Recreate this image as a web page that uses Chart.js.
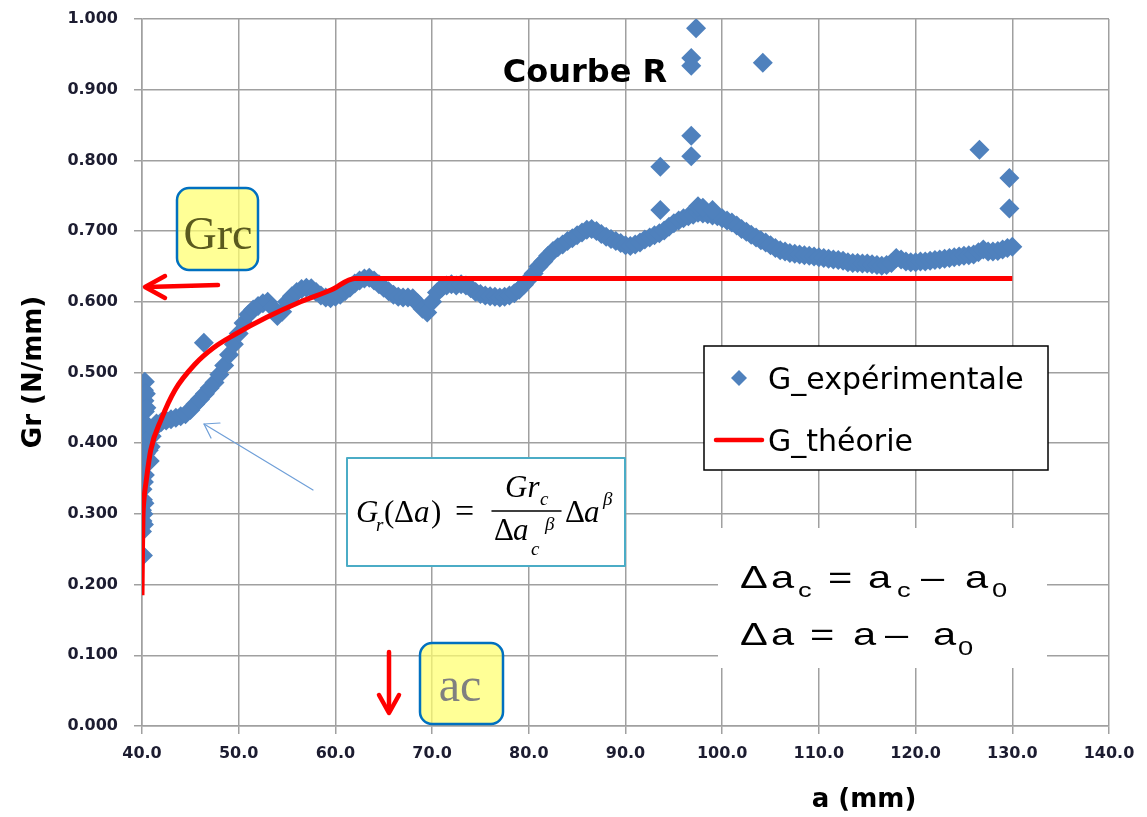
<!DOCTYPE html>
<html>
<head>
<meta charset="utf-8">
<title>Courbe R</title>
<script src="https://cdn.jsdelivr.net/npm/chart.js@4.4.0/dist/chart.umd.min.js"></script>
<style>
    html, body { margin: 0; padding: 0; background: #fff; }
    #wrap { width: 1147px; height: 817px; position: relative; }
</style>
</head>
<body>
<div id="wrap"><canvas id="chart"></canvas></div>
<script>
const expA = [
    // cluster at crack initiation
    40.1, 40.0, 40.05, 40.0, 40.1, 40.05, 40.15, 40.2, 40.25, 40.2, 40.3, 40.35, 40.4, 40.3, 40.25,
    40.2, 40.3, 40.25, 40.2, 40.3, 40.4, 40.45, 40.5, 40.6, 40.7, 40.8, 40.9, 41.0, 41.2,
    // propagation band
    41.5, 42.0, 42.5, 43.0, 43.5, 44.0, 44.5, 45.0, 45.5, 46.0, 46.5, 47.0, 47.5, 48.0, 48.5, 49.0,
    49.5, 50.0, 50.5, 51.0, 51.5, 52.0, 52.5, 53.0, 53.5, 54.0, 54.5, 55.0, 55.5, 56.0, 56.5, 57.0,
    57.5, 58.0, 58.5, 59.0, 59.5, 60.0, 60.5, 61.0, 61.5, 62.0, 62.5, 63.0, 63.5, 64.0, 64.5, 65.0,
    65.5, 66.0, 66.5, 67.0, 67.5, 68.0, 68.5, 69.0, 69.5, 70.0, 70.5, 71.0, 71.5, 72.0, 72.5, 73.0,
    73.5, 74.0, 74.5, 75.0, 75.5, 76.0, 76.5, 77.0, 77.5, 78.0, 78.5, 79.0, 79.5, 80.0, 80.5, 81.0,
    81.5, 82.0, 82.5, 83.0, 83.5, 84.0, 84.5, 85.0, 85.5, 86.0, 86.5, 87.0, 87.5, 88.0, 88.5, 89.0,
    89.5, 90.0, 90.5, 91.0, 91.5, 92.0, 92.5, 93.0, 93.5, 94.0, 94.5, 95.0, 95.5, 96.0, 96.5, 97.0,
    97.5, 98.0, 98.5, 99.0, 99.5, 100.0, 100.5, 101.0, 101.5, 102.0, 102.5, 103.0, 103.5, 104.0, 104.5, 105.0,
    105.5, 106.0, 106.5, 107.0, 107.5, 108.0, 108.5, 109.0, 109.5, 110.0, 110.5, 111.0, 111.5, 112.0, 112.5, 113.0,
    113.5, 114.0, 114.5, 115.0, 115.5, 116.0, 116.5, 117.0, 117.5, 118.0, 118.5, 119.0, 119.5, 120.0, 120.5, 121.0,
    121.5, 122.0, 122.5, 123.0, 123.5, 124.0, 124.5, 125.0, 125.5, 126.0, 126.5, 127.0, 127.5, 128.0, 128.5, 129.0,
    129.5, 130.0,
    // upper edge of the peak near 98 mm
    97.5, 98.0, 99.0,
    // isolated points
    46.4, 93.6, 93.6, 96.8, 96.8, 96.8, 96.8, 97.3, 104.2, 126.6, 129.7, 129.7
];
const expG = [
    0.241, 0.275, 0.290, 0.305, 0.320, 0.335, 0.300, 0.285, 0.315, 0.345, 0.355, 0.370, 0.385, 0.400, 0.415,
    0.430, 0.445, 0.460, 0.475, 0.487, 0.470, 0.450, 0.425, 0.405, 0.390, 0.375, 0.395, 0.410, 0.420,
    0.428, 0.430, 0.432, 0.434, 0.436, 0.438, 0.441, 0.447, 0.455, 0.462, 0.470, 0.478, 0.486, 0.497, 0.510, 0.525,
    0.540, 0.555, 0.570, 0.582, 0.589, 0.594, 0.598, 0.600, 0.592, 0.580, 0.586, 0.600, 0.608, 0.614, 0.618, 0.620,
    0.619, 0.614, 0.609, 0.606, 0.605, 0.607, 0.610, 0.615, 0.620, 0.626, 0.630, 0.633, 0.634, 0.630, 0.625, 0.620,
    0.615, 0.610, 0.607, 0.606, 0.606, 0.605, 0.598, 0.590, 0.585, 0.600, 0.613, 0.620, 0.623, 0.625, 0.623, 0.625,
    0.623, 0.619, 0.614, 0.611, 0.609, 0.608, 0.607, 0.606, 0.607, 0.609, 0.612, 0.617, 0.624, 0.632, 0.640, 0.650,
    0.657, 0.665, 0.672, 0.677, 0.681, 0.686, 0.690, 0.694, 0.698, 0.702, 0.703, 0.700, 0.696, 0.692, 0.689, 0.686,
    0.683, 0.680, 0.679, 0.681, 0.684, 0.688, 0.691, 0.694, 0.697, 0.701, 0.706, 0.711, 0.715, 0.718, 0.721, 0.723,
    0.726, 0.725, 0.724, 0.722, 0.721, 0.718, 0.715, 0.712, 0.708, 0.703, 0.699, 0.695, 0.691, 0.687, 0.684, 0.680,
    0.676, 0.673, 0.671, 0.669, 0.668, 0.667, 0.666, 0.665, 0.664, 0.663, 0.662, 0.661, 0.660, 0.659, 0.658, 0.656,
    0.655, 0.655, 0.654, 0.654, 0.653, 0.652, 0.651, 0.652, 0.655, 0.662, 0.660, 0.657, 0.656, 0.656, 0.657, 0.657,
    0.658, 0.659, 0.660, 0.661, 0.662, 0.663, 0.664, 0.665, 0.666, 0.667, 0.670, 0.674, 0.671, 0.671, 0.672, 0.674,
    0.676, 0.678,
    0.735, 0.733, 0.730,
    0.542, 0.791, 0.730, 0.835, 0.806, 0.945, 0.934, 0.987, 0.938, 0.815, 0.775, 0.732
];

// Theoretical R-curve
const theoA = [40.0, 40.05, 40.1, 40.2, 40.4, 40.9, 42.0, 43.4, 45.5, 47.4, 49.5, 52.9, 56.4, 59.6, 62.0, 130.0];
const theoG = [0.185, 0.250, 0.295, 0.320, 0.343, 0.390, 0.434, 0.475, 0.512, 0.535, 0.553, 0.578, 0.600, 0.617, 0.633, 0.633];

const seriesNames = ['G_expérimentale', 'G_théorie'];
const chartTitle = 'Courbe R';
const xTitle = 'a (mm)';
const yTitle = 'Gr (N/mm)';

const BLUE = '#4F81BD';
const RED = '#FF0000';
const GRID = '#a0a0a0';
const TICK_TEXT = '#1c1c30';

function roundRect(ctx, x, y, w, h, r) {
    ctx.beginPath();
    ctx.moveTo(x + r, y);
    ctx.arcTo(x + w, y, x + w, y + h, r);
    ctx.arcTo(x + w, y + h, x, y + h, r);
    ctx.arcTo(x, y + h, x, y, r);
    ctx.arcTo(x, y, x + w, y, r);
    ctx.closePath();
}

function strokeLine(ctx, pts, color, width) {
    ctx.beginPath();
    ctx.moveTo(pts[0][0], pts[0][1]);
    for (let i = 1; i < pts.length; i++) ctx.lineTo(pts[i][0], pts[i][1]);
    ctx.strokeStyle = color;
    ctx.lineWidth = width;
    ctx.lineCap = 'round';
    ctx.lineJoin = 'round';
    ctx.stroke();
}

function txt(ctx, s, x, y, font, color) {
    ctx.font = font;
    ctx.fillStyle = color || '#000';
    ctx.fillText(s, x, y);
}

// Annotations drawn on top of the chart (titles, legend, callouts)
const annotations = {
    id: 'annotations',
    afterDraw(chart) {
        const ctx = chart.ctx;
        const expSet = chart.data.datasets.find(d => d.label === seriesNames[0]);
        const theoSet = chart.data.datasets.find(d => d.label === seriesNames[1]);
        ctx.save();
        ctx.textAlign = 'left';
        ctx.textBaseline = 'alphabetic';

        // chart title
        ctx.textAlign = 'center';
        txt(ctx, chartTitle, 585, 82, 'bold 32px "DejaVu Sans"', '#000');

        // axis titles
        txt(ctx, xTitle, 864, 807, 'bold 26px "DejaVu Sans"', '#000');
        ctx.save();
        ctx.translate(34, 372);
        ctx.rotate(-Math.PI / 2);
        ctx.textBaseline = 'middle';
        txt(ctx, yTitle, 0, 0, 'bold 26px "DejaVu Sans"', '#000');
        ctx.restore();
        ctx.textAlign = 'left';

        // legend
        ctx.fillStyle = '#fff';
        ctx.fillRect(704, 346, 344, 124);
        ctx.strokeStyle = '#000';
        ctx.lineWidth = 1.5;
        ctx.strokeRect(704, 346, 344, 124);
        ctx.beginPath();
        ctx.moveTo(739, 370); ctx.lineTo(747, 378); ctx.lineTo(739, 386); ctx.lineTo(731, 378);
        ctx.closePath();
        ctx.fillStyle = expSet.backgroundColor;
        ctx.fill();
        txt(ctx, seriesNames[0], 768, 389, '30px "DejaVu Sans"', '#000');
        strokeLine(ctx, [[716, 440], [762, 440]], theoSet.borderColor, 4.5);
        txt(ctx, seriesNames[1], 768, 451, '30px "DejaVu Sans"', '#000');

        // text box with the definitions
        ctx.fillStyle = '#fff';
        ctx.fillRect(718, 528, 329, 140);
        const big = '32px "Liberation Sans"', small = '21px "Liberation Sans"';
        const stretched = (s, x, y, f) => {
            ctx.save();
            ctx.translate(x, y);
            ctx.scale(1.3, 1);
            txt(ctx, s, 0, 0, f, '#000');
            ctx.restore();
        };
        stretched('Δ', 740, 588, big); stretched('a', 771, 588, big); stretched('c', 798, 597, small);
        stretched('=', 828, 588, big); stretched('a', 868, 588, big); stretched('c', 897, 597, small);
        stretched('–', 921, 588, big); stretched('a', 965, 588, big); stretched('0', 992, 597, small);
        stretched('Δ', 740, 645, big); stretched('a', 771, 645, big); stretched('=', 810, 645, big);
        stretched('a', 853, 645, big); stretched('–', 885, 645, big); stretched('a', 933, 645, big);
        stretched('0', 958, 655, small);

        // formula box
        ctx.fillStyle = '#fff';
        ctx.fillRect(347, 458, 278, 108);
        ctx.strokeStyle = '#4BACC6';
        ctx.lineWidth = 2;
        ctx.strokeRect(347, 458, 278, 108);
        const it = 'italic 31px "Liberation Serif"', up = '31px "Liberation Serif"';
        const itS = 'italic 19px "Liberation Serif"';
        txt(ctx, 'G', 356, 522, it); txt(ctx, 'r', 376, 531, itS);
        txt(ctx, '(', 384, 522, up); txt(ctx, 'Δ', 394, 522, up); txt(ctx, 'a', 414, 522, it);
        txt(ctx, ')', 431, 522, up); txt(ctx, '=', 455, 522, '34px "Liberation Serif"');
        strokeLine(ctx, [[492, 511], [561, 511]], '#000', 1.5);
        txt(ctx, 'Gr', 505, 497, it); txt(ctx, 'c', 540, 505, itS);
        txt(ctx, 'Δ', 494, 540, up); txt(ctx, 'a', 513, 540, it);
        txt(ctx, 'c', 531, 555, itS); txt(ctx, 'β', 545, 530, itS);
        txt(ctx, 'Δ', 565, 522, up); txt(ctx, 'a', 584, 522, it); txt(ctx, 'β', 603, 505, itS);

        // thin pointer to the data
        strokeLine(ctx, [[313, 490], [204, 424]], '#6f9fd8', 1.2);
        strokeLine(ctx, [[220, 423], [204, 424], [211, 438]], '#6f9fd8', 1.2);

        // Grc callout
        roundRect(ctx, 177, 188, 81, 82, 12);
        ctx.fillStyle = 'rgba(255, 255, 110, 0.72)';
        ctx.fill();
        ctx.strokeStyle = '#0070C0';
        ctx.lineWidth = 2.5;
        ctx.stroke();
        ctx.textAlign = 'center';
        txt(ctx, 'Grc', 218, 249, '46px "Liberation Serif"', '#5a5a1e');
        ctx.textAlign = 'left';
        strokeLine(ctx, [[218, 285], [147, 287]], RED, 4.5);
        strokeLine(ctx, [[165, 276], [145, 287], [165, 298]], RED, 4.5);

        // ac callout
        roundRect(ctx, 420, 643, 83, 81, 12);
        ctx.fillStyle = 'rgba(255, 255, 110, 0.72)';
        ctx.fill();
        ctx.strokeStyle = '#0070C0';
        ctx.lineWidth = 2.5;
        ctx.stroke();
        ctx.textAlign = 'center';
        txt(ctx, 'ac', 460, 701, '48px "Liberation Serif"', '#808080');
        strokeLine(ctx, [[389, 652], [389, 712]], RED, 4.5);
        strokeLine(ctx, [[379, 695], [389, 713], [399, 695]], RED, 4.5);

        ctx.restore();
    }
};

const tickFont = { family: 'DejaVu Sans', size: 16, weight: 'bold' };

const ctx = document.getElementById('chart').getContext('2d');
const chart = new Chart(ctx, {
    type: 'scatter',
    data: {
        datasets: [
            {
                label: seriesNames[1],
                data: theoA.map((a, i) => ({ x: a, y: theoG[i] })),
                showLine: true,
                borderColor: RED,
                backgroundColor: RED,
                borderWidth: 5,
                pointRadius: 0,
                cubicInterpolationMode: 'monotone',
                order: 0
            },
            {
                label: seriesNames[0],
                data: expA.map((a, i) => ({ x: a, y: expG[i] })),
                showLine: false,
                pointStyle: 'rectRot',
                pointRadius: 10,
                borderWidth: 0,
                backgroundColor: BLUE,
                borderColor: BLUE,
                order: 1
            }
        ]
    },
    options: {
        responsive: true,
        maintainAspectRatio: false,
        animation: false,
        layout: { padding: { top: 19, right: 38, left: 0, bottom: 0 } },
        plugins: {
            legend: { display: false },
            tooltip: { enabled: false }
        },
        scales: {
            x: {
                type: 'linear',
                min: 40,
                max: 140,
                afterFit: s => { s.height = 91; },
                ticks: {
                    stepSize: 10,
                    maxRotation: 0,
                    padding: 10,
                    color: TICK_TEXT,
                    font: tickFont,
                    callback: v => v.toFixed(1)
                },
                grid: { color: GRID, lineWidth: 1.5, tickLength: 8 },
                border: { color: GRID, width: 1.5 }
            },
            y: {
                min: 0,
                max: 1,
                // tick padding would otherwise push the plot top down
                afterFit: s => { s.width = 142; s.paddingTop = 10; },
                ticks: {
                    stepSize: 0.1,
                    padding: 16,
                    color: TICK_TEXT,
                    font: tickFont,
                    callback: v => v.toFixed(3)
                },
                grid: { color: GRID, lineWidth: 1.5, tickLength: 8 },
                border: { color: GRID, width: 1.5 }
            }
        }
    },
    plugins: [annotations]
});
</script>
</body>
</html>
